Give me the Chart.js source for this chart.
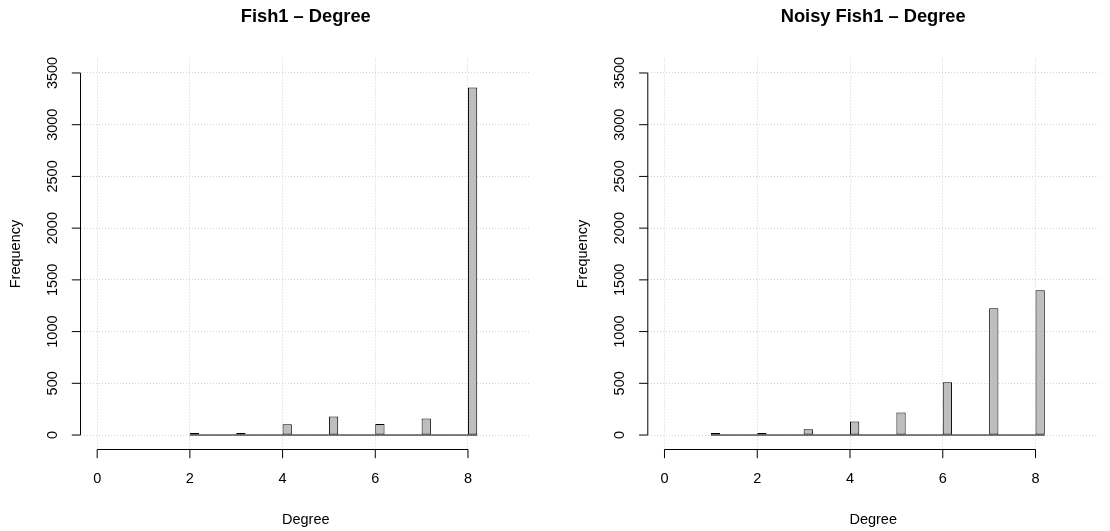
<!DOCTYPE html>
<html>
<head>
<meta charset="utf-8">
<script src="https://cdn.jsdelivr.net/npm/chart.js@4.4.0/dist/chart.umd.min.js"></script>
<style>
  html, body { margin: 0; padding: 0; background: #fff; }
  #wrap { position: relative; width: 1110px; height: 531px; }
  .panel { position: absolute; top: 0; width: 555px; height: 531px; }
</style>
</head>
<body>
<div id="wrap">
  <div class="panel" style="left:0"><canvas id="fish" width="555" height="531"></canvas></div>
  <div class="panel" style="left:555px"><canvas id="noisy" width="555" height="531"></canvas></div>
</div>
<script>
// degree histograms: one bin of width 0.2 starting at each integer degree
const binWidth = 0.2;
const fishDegrees = [2, 3, 4, 5, 6, 7, 8];
const fishCounts = [6, 8, 105, 178, 107, 160, 3360];
const noisyDegrees = [1, 2, 3, 4, 5, 6, 7, 8];
const noisyCounts = [3, 6, 55, 130, 218, 510, 1226, 1400];

const xTicks = [0, 2, 4, 6, 8];
const yTicks = [0, 500, 1000, 1500, 2000, 2500, 3000, 3500];
const xLim = [0, 9];
const yLim = [0, 3500];

const FONT = '"Liberation Sans", Arial, Helvetica, sans-serif';
const TICK_SIZE = 14.5;
const TITLE_SIZE = 18.3;
const TICK_LEN = 8.7;
const PLOT_TOP = 58.5;
const PLOT_BOTTOM = 449.5;

// base graphics pads each axis range by 4%
function padRange(lim) {
  const d = (lim[1] - lim[0]) * 0.04;
  return [lim[0] - d, lim[1] + d];
}

// axis lines that only run between the outer ticks, outward ticks, vertical y labels
const rAxes = {
  id: 'rAxes',
  afterDraw(chart) {
    const { ctx, chartArea: a, scales: { x, y } } = chart;
    ctx.save();
    ctx.strokeStyle = '#000';
    ctx.fillStyle = '#000';
    ctx.lineWidth = 1;
    ctx.font = TICK_SIZE + 'px ' + FONT;
    ctx.textAlign = 'center';
    ctx.textBaseline = 'middle';

    const yb = a.bottom;
    ctx.beginPath();
    ctx.moveTo(x.getPixelForValue(xTicks[0]), yb);
    ctx.lineTo(x.getPixelForValue(xTicks[xTicks.length - 1]), yb);
    xTicks.forEach(v => {
      const px = x.getPixelForValue(v);
      ctx.moveTo(px, yb);
      ctx.lineTo(px, yb + TICK_LEN);
    });
    const xl = a.left;
    ctx.moveTo(xl, y.getPixelForValue(yTicks[0]));
    ctx.lineTo(xl, y.getPixelForValue(yTicks[yTicks.length - 1]));
    yTicks.forEach(v => {
      const py = y.getPixelForValue(v);
      ctx.moveTo(xl, py);
      ctx.lineTo(xl - TICK_LEN, py);
    });
    ctx.stroke();

    xTicks.forEach(v => {
      ctx.fillText(String(v), x.getPixelForValue(v), yb + 29.5);
    });
    yTicks.forEach(v => {
      ctx.save();
      ctx.translate(xl - 27.5, y.getPixelForValue(v));
      ctx.rotate(-Math.PI / 2);
      ctx.fillText(String(v), 0, 0);
      ctx.restore();
    });
    ctx.restore();
  }
};

function histogram(canvasId, title, degrees, counts, plotLeft, plotRight) {
  const xr = padRange(xLim);
  const yr = padRange(yLim);
  const lineH = TICK_SIZE * 1.2;
  const titleH = TITLE_SIZE * 1.2;
  const bars = degrees.map((d, i) => ({ x: d + binWidth / 2, y: counts[i] }));
  // zero-height bins show up as a line along the baseline
  const baseline = [
    { x: degrees[0], y: 0 },
    { x: degrees[degrees.length - 1] + binWidth, y: 0 }
  ];

  return new Chart(document.getElementById(canvasId), {
    type: 'bar',
    data: {
      datasets: [
        {
          data: bars,
          backgroundColor: '#BEBEBE',
          borderColor: '#000',
          borderWidth: 1,
          borderSkipped: false,
          minBarLength: 2,
          categoryPercentage: binWidth,
          barPercentage: 1
        },
        {
          type: 'line',
          data: baseline,
          borderColor: '#000',
          borderWidth: 1,
          pointRadius: 0,
          fill: false
        }
      ]
    },
    options: {
      responsive: false,
      animation: false,
      devicePixelRatio: 1,
      layout: { padding: { left: 0, right: 555 - plotRight, top: 0, bottom: 0 } },
      plugins: {
        legend: { display: false },
        tooltip: { enabled: false },
        title: {
          display: true,
          text: title,
          fullSize: false,
          color: '#000',
          font: { family: FONT, size: TITLE_SIZE, weight: 'bold', lineHeight: 1.2 },
          padding: { top: 17 - titleH / 2, bottom: PLOT_TOP - 17 - titleH / 2 }
        }
      },
      scales: {
        x: {
          type: 'linear',
          min: xr[0],
          max: xr[1],
          offset: false,
          afterBuildTicks: s => { s.ticks = xTicks.map(v => ({ value: v })); },
          afterFit: s => { s.height = 531 - PLOT_BOTTOM; },
          ticks: { display: false },
          grid: { color: '#D3D3D3', lineWidth: 1, drawTicks: false, offset: false },
          border: { display: false, dash: [1, 2] },
          title: {
            display: true,
            text: 'Degree',
            color: '#000',
            font: { family: FONT, size: TICK_SIZE, lineHeight: 1.2 },
            padding: { top: 0, bottom: 11 - lineH / 2 }
          }
        },
        y: {
          type: 'linear',
          min: yr[0],
          max: yr[1],
          afterBuildTicks: s => { s.ticks = yTicks.map(v => ({ value: v })); },
          afterFit: s => { s.width = plotLeft; },
          ticks: { display: false },
          grid: { color: '#D3D3D3', lineWidth: 1, drawTicks: false },
          border: { display: false, dash: [1, 2] },
          title: {
            display: true,
            text: 'Frequency',
            color: '#000',
            font: { family: FONT, size: TICK_SIZE, lineHeight: 1.2 },
            padding: { top: plotLeft - 65 - lineH / 2, bottom: 0 }
          }
        }
      }
    },
    plugins: [rAxes]
  });
}

histogram('fish', 'Fish1 – Degree', fishDegrees, fishCounts, 80.5, 531);
histogram('noisy', 'Noisy Fish1 – Degree', noisyDegrees, noisyCounts, 92.8, 543.6);
</script>
</body>
</html>
